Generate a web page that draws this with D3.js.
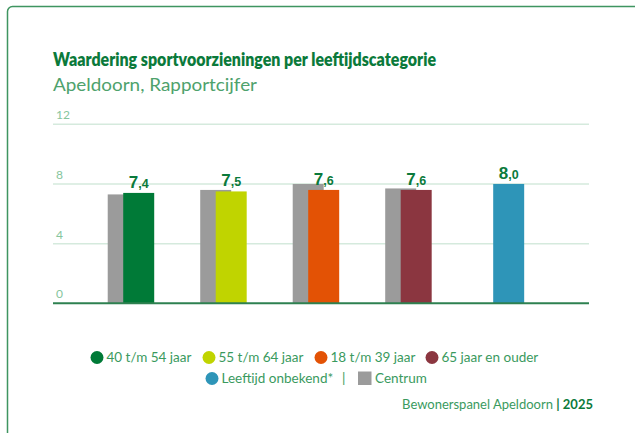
<!DOCTYPE html>
<html>
<head>
<meta charset="utf-8">
<script src="https://cdn.jsdelivr.net/npm/d3@7"></script>
<style>
  html, body { margin: 0; padding: 0; background: #fff; }
  svg { display: block; font-family: Lato, "Open Sans", sans-serif; }
</style>
</head>
<body>
<div id="chart"></div>
<script>
// data
const categories = ['40 t/m 54 jaar', '55 t/m 64 jaar', '18 t/m 39 jaar', '65 jaar en ouder', 'Leeftijd onbekend*'];
const groupValues = [7.4, 7.5, 7.6, 7.6, 8.0];
const centrumValues = [7.3, 7.6, 8.0, 7.7, null];
const groupColors = ['#007a37', '#c0d400', '#e35205', '#8b3640', '#2e95b8'];
const yTicks = [0, 4, 8, 12];

const width = 635, height = 433;
const dark = '#0b7a3b', light = '#3a9a5e';

const svg = d3.select('#chart').append('svg')
    .attr('width', width)
    .attr('height', height);

// card border
svg.append('rect')
    .attr('x', 7.5).attr('y', 6.5)
    .attr('width', 700).attr('height', 500)
    .attr('rx', 5)
    .attr('fill', 'none')
    .attr('stroke', '#3f9560')
    .attr('stroke-width', 1.5);

// title
svg.append('text')
    .attr('x', 53).attr('y', 66)
    .attr('font-size', 19.5).attr('font-weight', 800)
    .attr('fill', dark)
    .attr('textLength', 383).attr('lengthAdjust', 'spacingAndGlyphs')
    .text('Waardering sportvoorzieningen per leeftijdscategorie');
svg.append('text')
    .attr('x', 53).attr('y', 90.5)
    .attr('font-size', 16.5)
    .attr('fill', '#4ea26c')
    .attr('textLength', 204).attr('lengthAdjust', 'spacingAndGlyphs')
    .text('Apeldoorn, Rapportcijfer');

// scales
const y = d3.scaleLinear().domain([0, 12]).range([303.3, 124.3]);
const x = d3.scaleBand()
    .domain(categories)
    .range([53, 589])
    .paddingInner(0.665)
    .paddingOuter(0.73)
    .align(0.52);
const greyShift = 15.5;

// gridlines + tick labels
const grid = svg.append('g');
grid.selectAll('line')
    .data(yTicks.filter(d => d > 0))
    .enter()
    .append('line')
        .attr('x1', 53).attr('x2', 589)
        .attr('y1', d => y(d)).attr('y2', d => y(d))
        .attr('stroke', '#d5eadd')
        .attr('stroke-width', 1.5);
grid.selectAll('text')
    .data(yTicks)
    .enter()
    .append('text')
        .attr('x', 56)
        .attr('y', d => y(d) - 5)
        .attr('font-size', 12)
        .attr('fill', '#86c59d')
        .text(d => d);

// centrum bars (behind)
svg.selectAll('rect.centrum')
    .data(categories.map((c, i) => ({c: c, v: centrumValues[i]})).filter(d => d.v != null))
    .enter()
    .append('rect')
        .attr('class', 'centrum')
        .attr('x', d => x(d.c) - greyShift)
        .attr('y', d => y(d.v))
        .attr('width', x.bandwidth())
        .attr('height', d => y(0) - y(d.v))
        .attr('fill', '#9b9b9b');

// group bars
svg.selectAll('rect.grp')
    .data(categories.map((c, i) => ({c: c, v: groupValues[i], col: groupColors[i]})))
    .enter()
    .append('rect')
        .attr('class', 'grp')
        .attr('x', d => x(d.c))
        .attr('y', d => y(d.v))
        .attr('width', x.bandwidth())
        .attr('height', d => y(0) - y(d.v))
        .attr('fill', d => d.col);

// value labels: big integer part, small decimal part
const lbl = svg.selectAll('text.val')
    .data(categories.map((c, i) => ({c: c, v: groupValues[i]})))
    .enter()
    .append('text')
        .attr('class', 'val')
        .attr('x', d => x(d.c) + x.bandwidth() / 2)
        .attr('y', d => y(d.v) - 5)
        .attr('text-anchor', 'middle')
        .attr('font-family', '"Liberation Sans", Arial, sans-serif')
        .attr('font-weight', 700)
        .attr('fill', dark);
lbl.append('tspan')
    .attr('font-size', 17)
    .text(d => Math.floor(d.v));
lbl.append('tspan')
    .attr('font-size', 12.5)
    .text(d => ',' + Math.round((d.v % 1) * 10));

// x axis baseline
svg.append('line')
    .attr('x1', 53).attr('x2', 589)
    .attr('y1', y(0)).attr('y2', y(0))
    .attr('stroke', '#2e8150')
    .attr('stroke-width', 2);

// legend
const legRow1 = [
    {i: 0, cx: 97},
    {i: 1, cx: 209},
    {i: 2, cx: 321},
    {i: 3, cx: 432}
];
const leg = svg.append('g').attr('font-size', 13.5).attr('fill', light);
legRow1.forEach(d => {
    leg.append('circle').attr('cx', d.cx).attr('cy', 357.5).attr('r', 6.5).attr('fill', groupColors[d.i]);
    leg.append('text').attr('x', d.cx + 9.5).attr('y', 362).text(categories[d.i]);
});
leg.append('circle').attr('cx', 212).attr('cy', 378.5).attr('r', 6.5).attr('fill', groupColors[4]);
leg.append('text').attr('x', 221.5).attr('y', 383).text(categories[4]);
leg.append('text').attr('x', 342).attr('y', 383).text('|');
leg.append('rect').attr('x', 358).attr('y', 371.5).attr('width', 13.5).attr('height', 13.5).attr('fill', '#9b9b9b');
leg.append('text').attr('x', 375).attr('y', 383).text('Centrum');

// source
const src = svg.append('text')
    .attr('x', 593).attr('y', 409)
    .attr('text-anchor', 'end')
    .attr('font-size', 13)
    .attr('fill', light);
src.append('tspan').text('Bewonerspanel Apeldoorn ');
src.append('tspan').attr('font-weight', 700).attr('fill', dark).text('| 2025');
</script>
</body>
</html>
